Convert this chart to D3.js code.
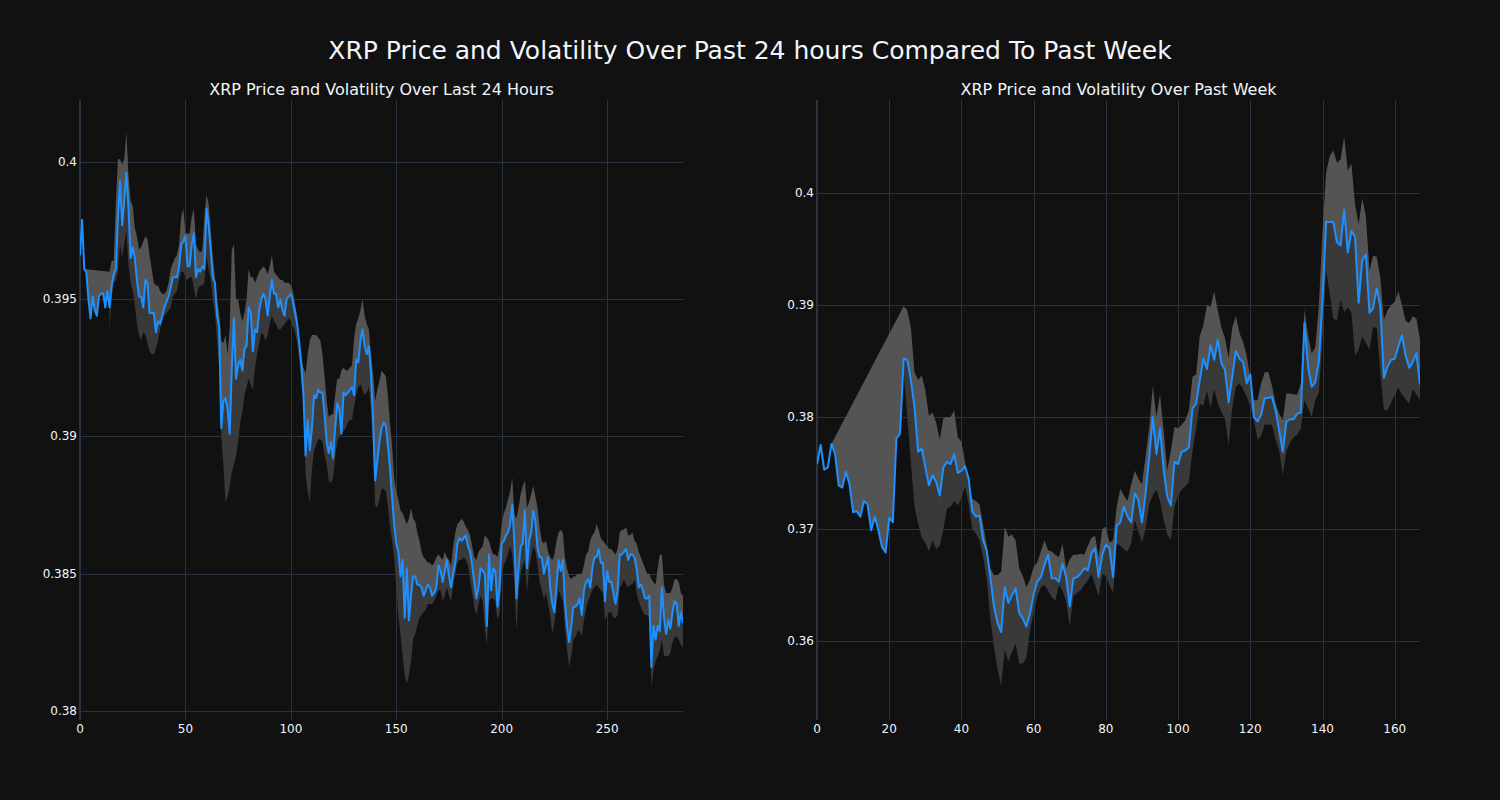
<!DOCTYPE html>
<html><head><meta charset="utf-8">
<script src="https://cdn.jsdelivr.net/npm/d3@7"></script>
<style>
body{margin:0;background:#111111;}
svg{display:block;}
text{font-family:"DejaVu Sans",Verdana,sans-serif;fill:#f2f5fa;}
</style>
</head><body>
<svg id="chart" width="1500" height="800"></svg>
<script>
// ---------------- DATA ----------------
const mainTitle = "XRP Price and Volatility Over Past 24 hours Compared To Past Week";
const leftTitle = "XRP Price and Volatility Over Last 24 Hours";
const rightTitle = "XRP Price and Volatility Over Past Week";

const leftPrice = [
0.3966,0.3979,0.3961,0.3960,0.3950,0.3943,0.3951,0.3946,0.3944,0.3951,
0.3952,0.3952,0.3947,0.3953,0.3947,0.3955,0.3959,0.3961,0.3980,0.3993,
0.3977,0.3986,0.3996,0.3983,0.3965,0.3969,0.3965,0.3957,0.3951,0.3951,
0.3947,0.3957,0.3956,0.3945,0.3945,0.3945,0.3938,0.3942,0.3941,0.3944,
0.3947,0.3949,0.3951,0.3954,0.3958,0.3958,0.3958,0.3962,0.3970,0.3971,
0.3973,0.3962,0.3962,0.3970,0.3974,0.3958,0.3961,0.3960,0.3962,0.3961,
0.3983,0.3977,0.3968,0.3958,0.3956,0.3944,0.3940,0.3903,0.3913,0.3914,
0.3910,0.3901,0.3925,0.3943,0.3921,0.3926,0.3928,0.3924,0.3932,0.3933,
0.3947,0.3945,0.3931,0.3939,0.3938,0.3946,0.3950,0.3952,0.3950,0.3944,
0.3951,0.3957,0.3952,0.3952,0.3947,0.3950,0.3946,0.3944,0.3950,0.3951,
0.3952,0.3949,0.3945,0.3941,0.3934,0.3926,0.3915,0.3893,0.3906,0.3895,
0.3903,0.3915,0.3914,0.3917,0.3916,0.3916,0.3908,0.3898,0.3894,0.3898,
0.3892,0.3903,0.3912,0.3910,0.3901,0.3916,0.3915,0.3916,0.3917,0.3918,
0.3915,0.3928,0.3927,0.3935,0.3939,0.3933,0.3930,0.3933,0.3923,0.3906,
0.3884,0.3891,0.3898,0.3903,0.3905,0.3904,0.3897,0.3889,0.3878,0.3868,
0.3861,0.3858,0.3849,0.3855,0.3834,0.3852,0.3833,0.3842,0.3849,0.3849,
0.3846,0.3846,0.3845,0.3842,0.3844,0.3846,0.3845,0.3842,0.3843,0.3845,
0.3853,0.3851,0.3847,0.3851,0.3855,0.3849,0.3845,0.3850,0.3854,0.3861,
0.3863,0.3862,0.3863,0.3864,0.3860,0.3858,0.3853,0.3847,0.3841,0.3845,
0.3852,0.3851,0.3850,0.3831,0.3857,0.3844,0.3852,0.3851,0.3838,0.3845,
0.3861,0.3862,0.3864,0.3865,0.3868,0.3875,0.3862,0.3841,0.3852,0.3860,
0.3861,0.3873,0.3852,0.3862,0.3865,0.3873,0.3869,0.3859,0.3856,0.3856,
0.3850,0.3853,0.3856,0.3845,0.3839,0.3836,0.3846,0.3855,0.3851,0.3855,
0.3840,0.3831,0.3825,0.3831,0.3838,0.3838,0.3839,0.3841,0.3835,0.3844,
0.3847,0.3848,0.3845,0.3852,0.3856,0.3856,0.3859,0.3854,0.3854,0.3840,
0.3851,0.3847,0.3847,0.3843,0.3839,0.3844,0.3857,0.3857,0.3858,0.3859,
0.3855,0.3857,0.3857,0.3856,0.3852,0.3845,0.3846,0.3844,0.3841,0.3841,
0.3842,0.3816,0.3831,0.3826,0.3831,0.3829,0.3845,0.3834,0.3828,0.3833,
0.3830,0.3836,0.3840,0.3839,0.3831,0.3836,0.3832
];

const leftUpper = [
null,null,null,null,null,null,null,null,null,null,
null,null,null,null,0.3960,0.3964,0.3964,0.3985,0.4001,0.4001,
0.3999,0.4001,0.4011,0.3995,0.3986,0.3984,0.3976,0.3973,0.3968,0.3969,
0.3971,0.3973,0.3972,0.3966,0.3961,0.3956,0.3955,0.3955,0.3953,0.3952,
0.3952,0.3953,0.3956,0.3961,0.3963,0.3965,0.3966,0.3970,0.3980,0.3983,
0.3974,0.3974,0.3974,0.3980,0.3983,0.3970,0.3968,0.3967,0.3968,0.3980,
0.3988,0.3985,0.3975,0.3965,0.3958,0.3950,0.3945,0.3935,0.3934,0.3937,
0.3930,0.3940,0.3968,0.3970,0.3950,0.3950,0.3945,0.3942,0.3945,0.3950,
0.3961,0.3958,0.3958,0.3956,0.3958,0.3960,0.3961,0.3962,0.3961,0.3959,
0.3962,0.3966,0.3960,0.3959,0.3958,0.3957,0.3957,0.3956,0.3956,0.3956,
0.3955,0.3953,0.3948,0.3944,0.3934,0.3928,0.3925,0.3923,0.3930,0.3935,
0.3937,0.3937,0.3937,0.3936,0.3935,0.3930,0.3922,0.3913,0.3907,0.3908,
0.3908,0.3915,0.3921,0.3921,0.3924,0.3925,0.3924,0.3924,0.3925,0.3926,
0.3936,0.3941,0.3943,0.3946,0.3950,0.3944,0.3941,0.3939,0.3930,0.3923,
0.3913,0.3917,0.3920,0.3924,0.3923,0.3922,0.3915,0.3905,0.3897,0.3885,
0.3880,0.3877,0.3873,0.3872,0.3870,0.3868,0.3870,0.3874,0.3870,0.3869,
0.3865,0.3862,0.3858,0.3856,0.3855,0.3854,0.3854,0.3853,0.3854,0.3856,
0.3857,0.3856,0.3855,0.3858,0.3856,0.3855,0.3853,0.3860,0.3865,0.3868,
0.3869,0.3870,0.3869,0.3867,0.3866,0.3864,0.3860,0.3856,0.3855,0.3858,
0.3859,0.3860,0.3864,0.3863,0.3862,0.3859,0.3857,0.3857,0.3856,0.3860,
0.3868,0.3872,0.3874,0.3877,0.3880,0.3885,0.3872,0.3870,0.3874,0.3879,
0.3882,0.3884,0.3874,0.3876,0.3879,0.3882,0.3878,0.3874,0.3867,0.3862,
0.3861,0.3862,0.3858,0.3856,0.3855,0.3857,0.3862,0.3865,0.3866,0.3865,
0.3856,0.3852,0.3849,0.3848,0.3849,0.3849,0.3850,0.3850,0.3850,0.3853,
0.3857,0.3858,0.3862,0.3864,0.3865,0.3868,0.3866,0.3863,0.3862,0.3861,
0.3860,0.3859,0.3859,0.3858,0.3857,0.3859,0.3865,0.3866,0.3866,0.3867,
0.3864,0.3864,0.3865,0.3862,0.3861,0.3858,0.3856,0.3854,0.3852,0.3850,
0.3850,0.3848,0.3847,0.3846,0.3852,0.3857,0.3857,0.3846,0.3843,0.3843,
0.3843,0.3845,0.3848,0.3848,0.3847,0.3843,0.3842
];

const leftLower = [
null,null,null,null,null,null,null,null,null,null,
null,null,null,null,0.3939,0.3950,0.3956,0.3957,0.3960,0.3970,
0.3965,0.3970,0.3975,0.3962,0.3956,0.3953,0.3948,0.3941,0.3937,0.3935,
0.3938,0.3937,0.3934,0.3931,0.3930,0.3930,0.3932,0.3935,0.3939,0.3942,
0.3944,0.3945,0.3946,0.3947,0.3951,0.3952,0.3953,0.3957,0.3960,0.3960,
0.3958,0.3957,0.3958,0.3958,0.3954,0.3950,0.3954,0.3955,0.3955,0.3956,
0.3966,0.3961,0.3957,0.3950,0.3945,0.3935,0.3925,0.3900,0.3890,0.3876,
0.3878,0.3882,0.3887,0.3890,0.3893,0.3898,0.3905,0.3909,0.3915,0.3918,
0.3921,0.3919,0.3917,0.3925,0.3930,0.3934,0.3938,0.3937,0.3935,0.3937,
0.3941,0.3944,0.3942,0.3941,0.3939,0.3939,0.3940,0.3941,0.3942,0.3943,
0.3942,0.3940,0.3938,0.3934,0.3928,0.3920,0.3912,0.3886,0.3880,0.3876,
0.3888,0.3895,0.3897,0.3899,0.3899,0.3898,0.3893,0.3890,0.3884,0.3883,
0.3885,0.3892,0.3898,0.3900,0.3901,0.3902,0.3903,0.3905,0.3906,0.3906,
0.3911,0.3915,0.3918,0.3919,0.3917,0.3915,0.3916,0.3918,0.3910,0.3895,
0.3875,0.3874,0.3877,0.3881,0.3881,0.3880,0.3875,0.3867,0.3862,0.3856,
0.3845,0.3835,0.3828,0.3820,0.3813,0.3810,0.3813,0.3818,0.3826,0.3828,
0.3831,0.3834,0.3835,0.3836,0.3837,0.3839,0.3839,0.3839,0.3840,0.3842,
0.3844,0.3844,0.3840,0.3842,0.3845,0.3842,0.3840,0.3846,0.3850,0.3854,
0.3855,0.3855,0.3856,0.3855,0.3853,0.3848,0.3843,0.3838,0.3835,0.3839,
0.3842,0.3840,0.3830,0.3824,0.3840,0.3841,0.3841,0.3840,0.3833,0.3836,
0.3848,0.3853,0.3855,0.3857,0.3860,0.3857,0.3848,0.3829,0.3844,0.3850,
0.3853,0.3855,0.3843,0.3852,0.3856,0.3860,0.3858,0.3853,0.3847,0.3844,
0.3841,0.3843,0.3839,0.3835,0.3828,0.3832,0.3839,0.3844,0.3842,0.3840,
0.3830,0.3822,0.3816,0.3820,0.3826,0.3827,0.3829,0.3829,0.3827,0.3833,
0.3837,0.3840,0.3842,0.3844,0.3845,0.3846,0.3845,0.3844,0.3843,0.3833,
0.3835,0.3836,0.3836,0.3834,0.3834,0.3835,0.3845,0.3846,0.3848,0.3846,
0.3845,0.3846,0.3846,0.3848,0.3843,0.3840,0.3838,0.3836,0.3835,0.3835,
0.3834,0.3809,0.3815,0.3818,0.3820,0.3822,0.3826,0.3820,0.3820,0.3820,
0.3821,0.3825,0.3827,0.3827,0.3826,0.3824,0.3823
];

const rightPrice = [
0.3758,0.3775,0.3753,0.3755,0.3776,0.3767,0.3739,0.3737,0.3751,0.3740,
0.3715,0.3716,0.3711,0.3725,0.3722,0.3699,0.3711,0.3699,0.3684,0.3679,
0.3710,0.3706,0.3781,0.3785,0.3852,0.3851,0.3833,0.3809,0.3769,0.3772,
0.3755,0.3739,0.3748,0.3742,0.3730,0.3755,0.3760,0.3758,0.3767,0.3750,
0.3752,0.3756,0.3745,0.3716,0.3711,0.3712,0.3690,0.3681,0.3657,0.3631,
0.3616,0.3608,0.3648,0.3634,0.3641,0.3647,0.3625,0.3620,0.3613,0.3625,
0.3642,0.3653,0.3657,0.3668,0.3677,0.3656,0.3656,0.3653,0.3669,0.3657,
0.3631,0.3656,0.3657,0.3660,0.3665,0.3663,0.3678,0.3683,0.3657,0.3677,
0.3686,0.3683,0.3657,0.3703,0.3706,0.3720,0.3711,0.3706,0.3732,0.3726,
0.3706,0.3732,0.3764,0.3800,0.3767,0.3790,0.3753,0.3729,0.3721,0.3760,
0.3758,0.3769,0.3770,0.3773,0.3808,0.3812,0.3833,0.3852,0.3843,0.3864,
0.3851,0.3869,0.3848,0.3842,0.3813,0.3836,0.3859,0.3852,0.3849,0.3830,
0.3838,0.3800,0.3796,0.3802,0.3817,0.3817,0.3818,0.3806,0.3788,0.3769,
0.3796,0.3798,0.3798,0.3803,0.3804,0.3884,0.3845,0.3827,0.3831,0.3850,
0.3905,0.3974,0.3974,0.3974,0.3956,0.3953,0.3985,0.3947,0.3966,0.3961,
0.3902,0.3940,0.3945,0.3893,0.3897,0.3915,0.3899,0.3835,0.3845,0.3851,
0.3852,0.3863,0.3873,0.3855,0.3844,0.3849,0.3857,0.3829
];

const rightUpper = [
null,null,null,null,null,null,null,null,null,null,
null,null,null,null,null,null,null,null,null,null,
null,null,null,null,0.3899,0.3895,0.3880,0.3840,0.3833,0.3837,
0.3824,0.3801,0.3804,0.3795,0.3780,0.3799,0.3800,0.3800,0.3806,0.3782,
0.3778,0.3760,0.3740,0.3727,0.3725,0.3722,0.3704,0.3685,0.3665,0.3659,
0.3659,0.3662,0.3702,0.3693,0.3695,0.3690,0.3665,0.3658,0.3648,0.3655,
0.3666,0.3670,0.3680,0.3690,0.3681,0.3680,0.3677,0.3675,0.3687,0.3665,
0.3673,0.3677,0.3677,0.3678,0.3677,0.3685,0.3692,0.3694,0.3675,0.3700,
0.3702,0.3688,0.3690,0.3720,0.3736,0.3730,0.3725,0.3740,0.3752,0.3745,
0.3740,0.3765,0.3790,0.3828,0.3800,0.3820,0.3788,0.3752,0.3770,0.3791,
0.3790,0.3793,0.3797,0.3806,0.3836,0.3838,0.3872,0.3882,0.3900,0.3898,
0.3912,0.3895,0.3880,0.3870,0.3853,0.3880,0.3890,0.3875,0.3867,0.3855,
0.3835,0.3815,0.3815,0.3830,0.3840,0.3840,0.3828,0.3812,0.3803,0.3797,
0.3821,0.3821,0.3820,0.3820,0.3830,0.3896,0.3873,0.3857,0.3862,0.3900,
0.3965,0.4018,0.4033,0.4038,0.4027,0.4030,0.4050,0.4020,0.4026,0.3990,
0.3972,0.3995,0.3980,0.3931,0.3944,0.3943,0.3925,0.3887,0.3895,0.3900,
0.3903,0.3912,0.3900,0.3886,0.3884,0.3890,0.3888,0.3869
];

const rightLower = [
null,null,null,null,null,null,null,null,null,null,
null,null,null,null,null,null,null,null,null,null,
null,null,null,null,0.3840,0.3800,0.3760,0.3720,0.3705,0.3692,
0.3688,0.3680,0.3690,0.3682,0.3685,0.3700,0.3718,0.3720,0.3725,0.3721,
0.3728,0.3738,0.3722,0.3700,0.3696,0.3690,0.3675,0.3655,0.3620,0.3595,
0.3575,0.3560,0.3592,0.3582,0.3590,0.3598,0.3580,0.3580,0.3585,0.3610,
0.3625,0.3640,0.3648,0.3650,0.3645,0.3639,0.3636,0.3650,0.3645,0.3635,
0.3613,0.3640,0.3643,0.3645,0.3650,0.3654,0.3660,0.3650,0.3640,0.3660,
0.3658,0.3650,0.3643,0.3687,0.3685,0.3682,0.3680,0.3687,0.3708,0.3698,
0.3688,0.3700,0.3722,0.3730,0.3735,0.3725,0.3708,0.3695,0.3690,0.3720,
0.3730,0.3735,0.3738,0.3742,0.3770,0.3790,0.3812,0.3810,0.3823,0.3808,
0.3825,0.3812,0.3805,0.3798,0.3775,0.3808,0.3827,0.3830,0.3825,0.3818,
0.3810,0.3798,0.3780,0.3783,0.3793,0.3793,0.3793,0.3780,0.3770,0.3748,
0.3770,0.3777,0.3782,0.3784,0.3790,0.3815,0.3808,0.3800,0.3815,0.3822,
0.3870,0.3931,0.3910,0.3888,0.3886,0.3905,0.3893,0.3898,0.3893,0.3855,
0.3860,0.3872,0.3866,0.3860,0.3880,0.3880,0.3840,0.3806,0.3806,0.3813,
0.3820,0.3826,0.3820,0.3816,0.3812,0.3825,0.3820,0.3815
];

const leftXTicks = [0, 50, 100, 150, 200, 250];
const leftYTicks = [0.38, 0.385, 0.39, 0.395, 0.4];
const rightXTicks = [0, 20, 40, 60, 80, 100, 120, 140, 160];
const rightYTicks = [0.36, 0.37, 0.38, 0.39, 0.4];

// ---------------- LAYOUT / STYLE ----------------
const W = 1500, H = 800;
const BG = "#111111", GRID = "#283442", TXT = "#f2f5fa";
const LINE = "#1e90ff", FILL_HI = "#545454", FILL_LO = "#393939";
const plotTop = 100, plotBottom = 720;

const svg = d3.select("#chart");
svg.append("rect").attr("width", W).attr("height", H).attr("fill", BG);

svg.append("text").attr("x", 750).attr("y", 50)
  .attr("text-anchor", "middle").attr("dominant-baseline", "central")
  .style("font-size", "25px").text(mainTitle);

function panel(cfg) {
  const n = cfg.price.length;
  const x = d3.scaleLinear().domain([0, n - 1]).range([cfg.x0, cfg.x1]);
  const y = d3.scaleLinear().domain(cfg.yDomain).range([plotBottom, plotTop]);
  const g = svg.append("g");
  const clipId = "clip" + cfg.id;
  svg.append("clipPath").attr("id", clipId).append("rect")
    .attr("x", cfg.x0).attr("y", plotTop).attr("width", cfg.x1 - cfg.x0).attr("height", plotBottom - plotTop);

  // grid
  g.selectAll(".hg").data(cfg.yTicks).enter().append("line")
    .attr("x1", cfg.x0).attr("x2", cfg.x1)
    .attr("y1", d => Math.round(y(d)) + 0.5).attr("y2", d => Math.round(y(d)) + 0.5)
    .attr("stroke", GRID).attr("stroke-width", 1);
  g.selectAll(".vg").data(cfg.xTicks.filter(d => d !== 0)).enter().append("line")
    .attr("y1", plotTop).attr("y2", plotBottom)
    .attr("x1", d => Math.round(x(d)) + 0.5).attr("x2", d => Math.round(x(d)) + 0.5)
    .attr("stroke", GRID).attr("stroke-width", 1);
  // zero line
  g.append("line").attr("y1", plotTop).attr("y2", plotBottom)
    .attr("x1", x(0)).attr("x2", x(0)).attr("stroke", GRID).attr("stroke-width", 2);

  const data = g.append("g").attr("clip-path", `url(#${clipId})`);
  const line = d3.line().x(d => x(d[0])).y(d => y(d[1]));
  const bs = cfg.bandStart;

  // upper (lighter) fill: upper band back along price to fillFrom
  const hi = [];
  for (let i = bs; i < n; i++) hi.push([i, cfg.upper[i]]);
  for (let i = n - 1; i >= cfg.fillFrom; i--) hi.push([i, cfg.price[i]]);
  data.append("path").attr("d", line(hi) + "Z").attr("fill", FILL_HI).attr("stroke", "none");

  // lower (darker) fill
  const lo = [];
  for (let i = bs; i < n; i++) lo.push([i, cfg.lower[i]]);
  for (let i = n - 1; i >= bs; i--) lo.push([i, cfg.price[i]]);
  data.append("path").attr("d", line(lo) + "Z").attr("fill", FILL_LO).attr("stroke", "none");

  // price line
  data.append("path").attr("d", line(cfg.price.map((v, i) => [i, v])))
    .attr("fill", "none").attr("stroke", LINE).attr("stroke-width", 2).attr("stroke-linejoin", "round");

  // tick labels
  g.selectAll(".yl").data(cfg.yTicks).enter().append("text")
    .attr("x", cfg.x0 - 3).attr("y", d => y(d))
    .attr("text-anchor", "end").attr("dominant-baseline", "central")
    .style("font-size", "12px").text(d => String(d));
  g.selectAll(".xl").data(cfg.xTicks).enter().append("text")
    .attr("x", d => x(d)).attr("y", 729)
    .attr("text-anchor", "middle").attr("dominant-baseline", "central")
    .style("font-size", "12px").text(d => String(d));

  // subplot title
  g.append("text").attr("x", (cfg.x0 + cfg.x1) / 2).attr("y", 89)
    .attr("text-anchor", "middle").attr("dominant-baseline", "central")
    .style("font-size", "16px").text(cfg.title);
}

panel({id: "L", price: leftPrice, upper: leftUpper, lower: leftLower,
  bandStart: 14, fillFrom: 2, x0: 80, x1: 683, yDomain: [0.37967, 0.40226],
  xTicks: leftXTicks, yTicks: leftYTicks, title: leftTitle});
panel({id: "R", price: rightPrice, upper: rightUpper, lower: rightLower,
  bandStart: 24, fillFrom: 4, x0: 817, x1: 1420, yDomain: [0.35295, 0.4083],
  xTicks: rightXTicks, yTicks: rightYTicks, title: rightTitle});
</script>
</body></html>
